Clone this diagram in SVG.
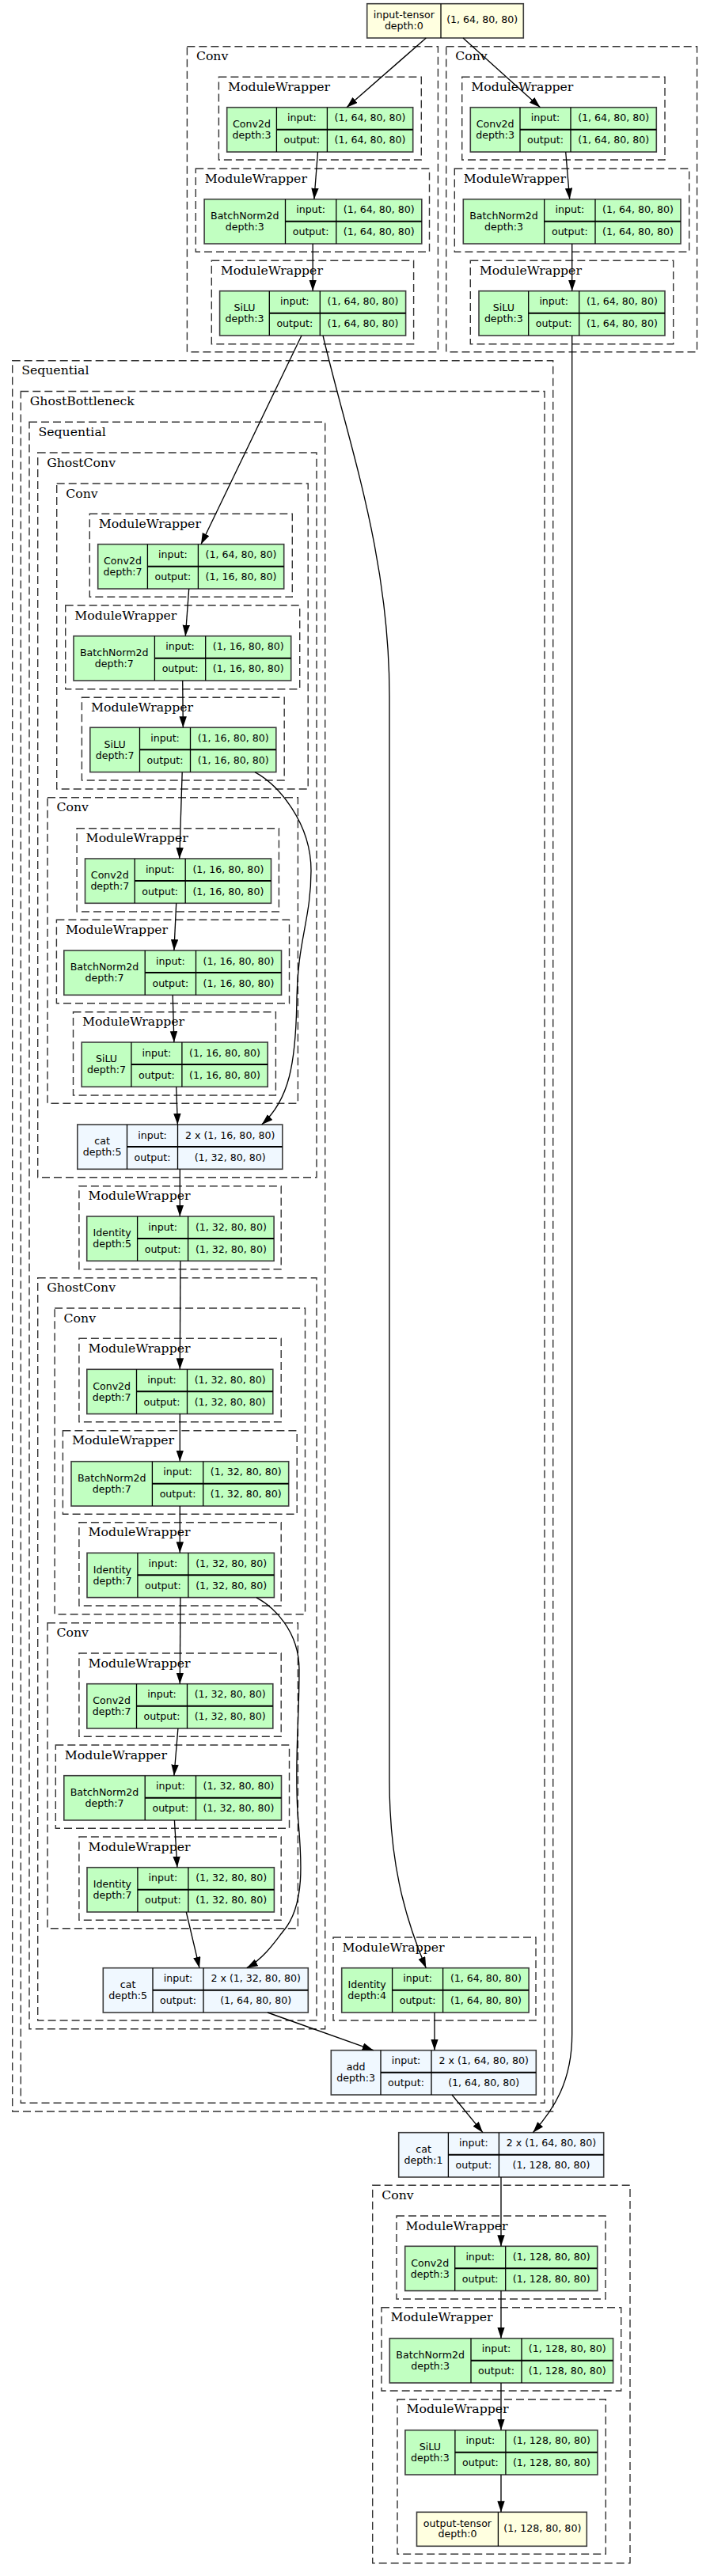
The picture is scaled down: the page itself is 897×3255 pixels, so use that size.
<svg xmlns="http://www.w3.org/2000/svg" width="897" height="3255" viewBox="0 0 897 3255">
<style>
.cl{fill:none;stroke:#333;stroke-width:1.4;stroke-dasharray:10,5}
.ct{font-family:"DejaVu Serif",serif;font-size:15.7px;fill:#000}
.nt{font-family:"DejaVu Sans",sans-serif;font-size:12.6px;text-anchor:middle;fill:#000}
.g{fill:#c1ffc1}.f{fill:#f0f8ff}.y{fill:#ffffe0}
.box{stroke:#3d3d3d;stroke-width:1.6}
.d{stroke:#000;stroke-width:1.3;fill:none}
.r{stroke:#000;stroke-width:2;fill:none}
.e{fill:none;stroke:#000;stroke-width:1.33;marker-end:url(#ah)}
</style>
<defs>
<marker id="ah" markerUnits="userSpaceOnUse" markerWidth="14" markerHeight="10" refX="14" refY="4.7" orient="auto"><path d="M0,0L14,4.7L0,9.4z" fill="#000"/></marker>
</defs>
<rect width="897" height="3255" fill="#fff"/>
<g id="clusters">
<g id="cl_conv_l"><rect class="cl" x="236.4" y="58.7" width="317" height="386"/><text class="ct" x="247.9" y="76.4">Conv</text></g>
<g id="cl_mw_l1"><rect class="cl" x="276.4" y="97.3" width="255.9" height="104.7"/><text class="ct" x="287.9" y="115">ModuleWrapper</text></g>
<g id="cl_mw_l2"><rect class="cl" x="247.3" y="213" width="295.2" height="105.3"/><text class="ct" x="258.8" y="230.7">ModuleWrapper</text></g>
<g id="cl_mw_l3"><rect class="cl" x="267.3" y="329.3" width="255.3" height="105.4"/><text class="ct" x="278.8" y="347">ModuleWrapper</text></g>
<g id="cl_conv_r"><rect class="cl" x="563.7" y="58.7" width="316.9" height="386"/><text class="ct" x="575.2" y="76.4">Conv</text></g>
<g id="cl_mw_r1"><rect class="cl" x="583.7" y="97.3" width="256.3" height="104.7"/><text class="ct" x="595.2" y="115">ModuleWrapper</text></g>
<g id="cl_mw_r2"><rect class="cl" x="574.3" y="213" width="296.4" height="105.3"/><text class="ct" x="585.8" y="230.7">ModuleWrapper</text></g>
<g id="cl_mw_r3"><rect class="cl" x="594.3" y="329.3" width="256.4" height="105.4"/><text class="ct" x="605.8" y="347">ModuleWrapper</text></g>
<g id="cl_seq1"><rect class="cl" x="15.7" y="455.7" width="683" height="2212.3"/><text class="ct" x="27.2" y="473.4">Sequential</text></g>
<g id="cl_gb"><rect class="cl" x="26.3" y="494.5" width="661.7" height="2162.8"/><text class="ct" x="37.8" y="512.2">GhostBottleneck</text></g>
<g id="cl_seq2"><rect class="cl" x="37" y="533.3" width="373.7" height="2030.4"/><text class="ct" x="48.5" y="551">Sequential</text></g>
<g id="cl_gc1"><rect class="cl" x="47.7" y="572" width="352.3" height="915.7"/><text class="ct" x="59.2" y="589.7">GhostConv</text></g>
<g id="cl_cv1"><rect class="cl" x="71.7" y="611" width="317.5" height="386"/><text class="ct" x="83.2" y="628.7">Conv</text></g>
<g id="cl_cv1_m1"><rect class="cl" x="113.3" y="649.3" width="256" height="105"/><text class="ct" x="124.8" y="667">ModuleWrapper</text></g>
<g id="cl_cv1_m2"><rect class="cl" x="82.7" y="765" width="296" height="105.7"/><text class="ct" x="94.2" y="782.7">ModuleWrapper</text></g>
<g id="cl_cv1_m3"><rect class="cl" x="103.4" y="881.3" width="255.8" height="104.7"/><text class="ct" x="114.9" y="899">ModuleWrapper</text></g>
<g id="cl_cv2"><rect class="cl" x="60" y="1007.7" width="316.4" height="386.6"/><text class="ct" x="71.5" y="1025.4">Conv</text></g>
<g id="cl_cv2_m1"><rect class="cl" x="97.1" y="1046.7" width="255.3" height="105.3"/><text class="ct" x="108.6" y="1064.4">ModuleWrapper</text></g>
<g id="cl_cv2_m2"><rect class="cl" x="71.4" y="1162.3" width="294.1" height="105.4"/><text class="ct" x="82.9" y="1180">ModuleWrapper</text></g>
<g id="cl_cv2_m3"><rect class="cl" x="92.5" y="1278.7" width="255.9" height="105.3"/><text class="ct" x="104" y="1296.4">ModuleWrapper</text></g>
<g id="cl_mw_id5"><rect class="cl" x="99.9" y="1498.7" width="255.3" height="105"/><text class="ct" x="111.4" y="1516.4">ModuleWrapper</text></g>
<g id="cl_gc2"><rect class="cl" x="47.7" y="1614.7" width="352.3" height="938.3"/><text class="ct" x="59.2" y="1632.4">GhostConv</text></g>
<g id="cl_cv3"><rect class="cl" x="69.1" y="1653" width="316.4" height="386.7"/><text class="ct" x="80.6" y="1670.7">Conv</text></g>
<g id="cl_cv3_m1"><rect class="cl" x="99.9" y="1691.3" width="255.3" height="105.4"/><text class="ct" x="111.4" y="1709">ModuleWrapper</text></g>
<g id="cl_cv3_m2"><rect class="cl" x="79.4" y="1807.7" width="295.8" height="105.6"/><text class="ct" x="90.9" y="1825.4">ModuleWrapper</text></g>
<g id="cl_cv3_m3"><rect class="cl" x="99.9" y="1923.7" width="255.3" height="105.3"/><text class="ct" x="111.4" y="1941.4">ModuleWrapper</text></g>
<g id="cl_cv4"><rect class="cl" x="60" y="2050.7" width="316.4" height="386"/><text class="ct" x="71.5" y="2068.4">Conv</text></g>
<g id="cl_cv4_m1"><rect class="cl" x="99.9" y="2089" width="255.3" height="105.3"/><text class="ct" x="111.4" y="2106.7">ModuleWrapper</text></g>
<g id="cl_cv4_m2"><rect class="cl" x="70.3" y="2205" width="295.2" height="105.3"/><text class="ct" x="81.8" y="2222.7">ModuleWrapper</text></g>
<g id="cl_cv4_m3"><rect class="cl" x="99.9" y="2321" width="255.3" height="105.3"/><text class="ct" x="111.4" y="2338.7">ModuleWrapper</text></g>
<g id="cl_mw_id4"><rect class="cl" x="421" y="2448" width="256" height="105"/><text class="ct" x="432.5" y="2465.7">ModuleWrapper</text></g>
<g id="cl_cv5"><rect class="cl" x="470.7" y="2761.3" width="325.3" height="477.4"/><text class="ct" x="482.2" y="2779">Conv</text></g>
<g id="cl_cv5_m1"><rect class="cl" x="501" y="2800" width="264" height="105"/><text class="ct" x="512.5" y="2817.7">ModuleWrapper</text></g>
<g id="cl_cv5_m2"><rect class="cl" x="482" y="2915.7" width="302.7" height="105.3"/><text class="ct" x="493.5" y="2933.4">ModuleWrapper</text></g>
<g id="cl_cv5_m3"><rect class="cl" x="502" y="3031.7" width="263.3" height="195.6"/><text class="ct" x="513.5" y="3049.4">ModuleWrapper</text></g>
</g>
<g id="nodes">
<g id="input_tensor"><rect class="y box" x="463.7" y="4.7" width="197.6" height="43.3"/><path class="d" d="M557 4.7V48"/><text class="nt" x="510.35" y="23.3">input-tensor</text><text class="nt" x="510.35" y="36.7">depth:0</text><text class="nt" x="609.15" y="29.3">(1, 64, 80, 80)</text></g>

<g id="conv2d_l"><rect class="g box" x="286.7" y="135.7" width="235" height="56.3"/><path class="d" d="M349.4 135.7V192M413.4 135.7V192"/><path class="r" d="M349.4 163.7H521.7"/><text class="nt" x="318.05" y="160.9">Conv2d</text><text class="nt" x="318.05" y="174.9">depth:3</text><text class="nt" x="381.4" y="153.2">input:</text><text class="nt" x="467.55" y="153.2">(1, 64, 80, 80)</text><text class="nt" x="381.4" y="181.2">output:</text><text class="nt" x="467.55" y="181.2">(1, 64, 80, 80)</text></g>
<g id="bn_l"><rect class="g box" x="258.1" y="251.7" width="274.7" height="56.3"/><path class="d" d="M360.5 251.7V308M424.8 251.7V308"/><path class="r" d="M360.5 279.7H532.8"/><text class="nt" x="309.3" y="276.9">BatchNorm2d</text><text class="nt" x="309.3" y="290.9">depth:3</text><text class="nt" x="392.65" y="269.2">input:</text><text class="nt" x="478.8" y="269.2">(1, 64, 80, 80)</text><text class="nt" x="392.65" y="297.2">output:</text><text class="nt" x="478.8" y="297.2">(1, 64, 80, 80)</text></g>
<g id="silu_l"><rect class="g box" x="277.6" y="367.7" width="235" height="56.3"/><path class="d" d="M340.3 367.7V424M404.3 367.7V424"/><path class="r" d="M340.3 395.7H512.6"/><text class="nt" x="308.95" y="392.9">SiLU</text><text class="nt" x="308.95" y="406.9">depth:3</text><text class="nt" x="372.3" y="385.2">input:</text><text class="nt" x="458.45" y="385.2">(1, 64, 80, 80)</text><text class="nt" x="372.3" y="413.2">output:</text><text class="nt" x="458.45" y="413.2">(1, 64, 80, 80)</text></g>

<g id="conv2d_r"><rect class="g box" x="594.3" y="135.7" width="235" height="56.3"/><path class="d" d="M657 135.7V192M721 135.7V192"/><path class="r" d="M657 163.7H829.3"/><text class="nt" x="625.65" y="160.9">Conv2d</text><text class="nt" x="625.65" y="174.9">depth:3</text><text class="nt" x="689" y="153.2">input:</text><text class="nt" x="775.15" y="153.2">(1, 64, 80, 80)</text><text class="nt" x="689" y="181.2">output:</text><text class="nt" x="775.15" y="181.2">(1, 64, 80, 80)</text></g>
<g id="bn_r"><rect class="g box" x="585.3" y="251.7" width="274.7" height="56.3"/><path class="d" d="M687.7 251.7V308M752 251.7V308"/><path class="r" d="M687.7 279.7H860"/><text class="nt" x="636.5" y="276.9">BatchNorm2d</text><text class="nt" x="636.5" y="290.9">depth:3</text><text class="nt" x="719.85" y="269.2">input:</text><text class="nt" x="806" y="269.2">(1, 64, 80, 80)</text><text class="nt" x="719.85" y="297.2">output:</text><text class="nt" x="806" y="297.2">(1, 64, 80, 80)</text></g>
<g id="silu_r"><rect class="g box" x="605" y="367.7" width="235" height="56.3"/><path class="d" d="M667.7 367.7V424M731.7 367.7V424"/><path class="r" d="M667.7 395.7H840"/><text class="nt" x="636.35" y="392.9">SiLU</text><text class="nt" x="636.35" y="406.9">depth:3</text><text class="nt" x="699.7" y="385.2">input:</text><text class="nt" x="785.85" y="385.2">(1, 64, 80, 80)</text><text class="nt" x="699.7" y="413.2">output:</text><text class="nt" x="785.85" y="413.2">(1, 64, 80, 80)</text></g>

<g id="conv2d_a"><rect class="g box" x="123.7" y="687.7" width="235" height="56.3"/><path class="d" d="M186.4 687.7V744M250.4 687.7V744"/><path class="r" d="M186.4 715.7H358.7"/><text class="nt" x="155.05" y="712.9">Conv2d</text><text class="nt" x="155.05" y="726.9">depth:7</text><text class="nt" x="218.4" y="705.2">input:</text><text class="nt" x="304.55" y="705.2">(1, 64, 80, 80)</text><text class="nt" x="218.4" y="733.2">output:</text><text class="nt" x="304.55" y="733.2">(1, 16, 80, 80)</text></g>
<g id="bn_a"><rect class="g box" x="93" y="803.7" width="274.7" height="56.3"/><path class="d" d="M195.4 803.7V860M259.7 803.7V860"/><path class="r" d="M195.4 831.7H367.7"/><text class="nt" x="144.2" y="828.9">BatchNorm2d</text><text class="nt" x="144.2" y="842.9">depth:7</text><text class="nt" x="227.55" y="821.2">input:</text><text class="nt" x="313.7" y="821.2">(1, 16, 80, 80)</text><text class="nt" x="227.55" y="849.2">output:</text><text class="nt" x="313.7" y="849.2">(1, 16, 80, 80)</text></g>
<g id="silu_a"><rect class="g box" x="113.8" y="919.3" width="235" height="56.3"/><path class="d" d="M176.5 919.3V975.6M240.5 919.3V975.6"/><path class="r" d="M176.5 947.3H348.8"/><text class="nt" x="145.15" y="944.5">SiLU</text><text class="nt" x="145.15" y="958.5">depth:7</text><text class="nt" x="208.5" y="936.8">input:</text><text class="nt" x="294.65" y="936.8">(1, 16, 80, 80)</text><text class="nt" x="208.5" y="964.8">output:</text><text class="nt" x="294.65" y="964.8">(1, 16, 80, 80)</text></g>

<g id="conv2d_b"><rect class="g box" x="107.5" y="1085" width="235" height="56.3"/><path class="d" d="M170.2 1085V1141.3M234.2 1085V1141.3"/><path class="r" d="M170.2 1113H342.5"/><text class="nt" x="138.85" y="1110.2">Conv2d</text><text class="nt" x="138.85" y="1124.2">depth:7</text><text class="nt" x="202.2" y="1102.5">input:</text><text class="nt" x="288.35" y="1102.5">(1, 16, 80, 80)</text><text class="nt" x="202.2" y="1130.5">output:</text><text class="nt" x="288.35" y="1130.5">(1, 16, 80, 80)</text></g>
<g id="bn_b"><rect class="g box" x="80.8" y="1201" width="274.7" height="56.3"/><path class="d" d="M183.2 1201V1257.3M247.5 1201V1257.3"/><path class="r" d="M183.2 1229H355.5"/><text class="nt" x="132" y="1226.2">BatchNorm2d</text><text class="nt" x="132" y="1240.2">depth:7</text><text class="nt" x="215.35" y="1218.5">input:</text><text class="nt" x="301.5" y="1218.5">(1, 16, 80, 80)</text><text class="nt" x="215.35" y="1246.5">output:</text><text class="nt" x="301.5" y="1246.5">(1, 16, 80, 80)</text></g>
<g id="silu_b"><rect class="g box" x="103.2" y="1317" width="235" height="56.3"/><path class="d" d="M165.9 1317V1373.3M229.9 1317V1373.3"/><path class="r" d="M165.9 1345H338.2"/><text class="nt" x="134.55" y="1342.2">SiLU</text><text class="nt" x="134.55" y="1356.2">depth:7</text><text class="nt" x="197.9" y="1334.5">input:</text><text class="nt" x="284.05" y="1334.5">(1, 16, 80, 80)</text><text class="nt" x="197.9" y="1362.5">output:</text><text class="nt" x="284.05" y="1362.5">(1, 16, 80, 80)</text></g>

<g id="cat_a"><rect class="f box" x="97.8" y="1421" width="259" height="56.3"/><path class="d" d="M160.5 1421V1477.3M224.5 1421V1477.3"/><path class="r" d="M160.5 1449H356.8"/><text class="nt" x="129.15" y="1446.2">cat</text><text class="nt" x="129.15" y="1460.2">depth:5</text><text class="nt" x="192.5" y="1438.5">input:</text><text class="nt" x="290.65" y="1438.5">2 x (1, 16, 80, 80)</text><text class="nt" x="192.5" y="1466.5">output:</text><text class="nt" x="290.65" y="1466.5">(1, 32, 80, 80)</text></g>
<g id="identity_d5"><rect class="g box" x="109.7" y="1537" width="236.4" height="56.3"/><path class="d" d="M173.6 1537V1593.3M237.6 1537V1593.3"/><path class="r" d="M173.6 1565H346.1"/><text class="nt" x="141.65" y="1562.2">Identity</text><text class="nt" x="141.65" y="1576.2">depth:5</text><text class="nt" x="205.6" y="1554.5">input:</text><text class="nt" x="291.85" y="1554.5">(1, 32, 80, 80)</text><text class="nt" x="205.6" y="1582.5">output:</text><text class="nt" x="291.85" y="1582.5">(1, 32, 80, 80)</text></g>

<g id="conv2d_c"><rect class="g box" x="109.8" y="1730.3" width="235" height="56.3"/><path class="d" d="M172.5 1730.3V1786.6M236.5 1730.3V1786.6"/><path class="r" d="M172.5 1758.3H344.8"/><text class="nt" x="141.15" y="1755.5">Conv2d</text><text class="nt" x="141.15" y="1769.5">depth:7</text><text class="nt" x="204.5" y="1747.8">input:</text><text class="nt" x="290.65" y="1747.8">(1, 32, 80, 80)</text><text class="nt" x="204.5" y="1775.8">output:</text><text class="nt" x="290.65" y="1775.8">(1, 32, 80, 80)</text></g>
<g id="bn_c"><rect class="g box" x="90" y="1846.7" width="274.7" height="56.3"/><path class="d" d="M192.4 1846.7V1903M256.7 1846.7V1903"/><path class="r" d="M192.4 1874.7H364.7"/><text class="nt" x="141.2" y="1871.9">BatchNorm2d</text><text class="nt" x="141.2" y="1885.9">depth:7</text><text class="nt" x="224.55" y="1864.2">input:</text><text class="nt" x="310.7" y="1864.2">(1, 32, 80, 80)</text><text class="nt" x="224.55" y="1892.2">output:</text><text class="nt" x="310.7" y="1892.2">(1, 32, 80, 80)</text></g>
<g id="identity_c"><rect class="g box" x="110" y="1962.3" width="236.4" height="56.3"/><path class="d" d="M173.9 1962.3V2018.6M237.9 1962.3V2018.6"/><path class="r" d="M173.9 1990.3H346.4"/><text class="nt" x="141.95" y="1987.5">Identity</text><text class="nt" x="141.95" y="2001.5">depth:7</text><text class="nt" x="205.9" y="1979.8">input:</text><text class="nt" x="292.15" y="1979.8">(1, 32, 80, 80)</text><text class="nt" x="205.9" y="2007.8">output:</text><text class="nt" x="292.15" y="2007.8">(1, 32, 80, 80)</text></g>

<g id="conv2d_d"><rect class="g box" x="109.8" y="2127.7" width="235" height="56.3"/><path class="d" d="M172.5 2127.7V2184M236.5 2127.7V2184"/><path class="r" d="M172.5 2155.7H344.8"/><text class="nt" x="141.15" y="2152.9">Conv2d</text><text class="nt" x="141.15" y="2166.9">depth:7</text><text class="nt" x="204.5" y="2145.2">input:</text><text class="nt" x="290.65" y="2145.2">(1, 32, 80, 80)</text><text class="nt" x="204.5" y="2173.2">output:</text><text class="nt" x="290.65" y="2173.2">(1, 32, 80, 80)</text></g>
<g id="bn_d"><rect class="g box" x="80.8" y="2243.7" width="274.7" height="56.3"/><path class="d" d="M183.2 2243.7V2300M247.5 2243.7V2300"/><path class="r" d="M183.2 2271.7H355.5"/><text class="nt" x="132" y="2268.9">BatchNorm2d</text><text class="nt" x="132" y="2282.9">depth:7</text><text class="nt" x="215.35" y="2261.2">input:</text><text class="nt" x="301.5" y="2261.2">(1, 32, 80, 80)</text><text class="nt" x="215.35" y="2289.2">output:</text><text class="nt" x="301.5" y="2289.2">(1, 32, 80, 80)</text></g>
<g id="identity_d"><rect class="g box" x="110" y="2359.7" width="236.4" height="56.3"/><path class="d" d="M173.9 2359.7V2416M237.9 2359.7V2416"/><path class="r" d="M173.9 2387.7H346.4"/><text class="nt" x="141.95" y="2384.9">Identity</text><text class="nt" x="141.95" y="2398.9">depth:7</text><text class="nt" x="205.9" y="2377.2">input:</text><text class="nt" x="292.15" y="2377.2">(1, 32, 80, 80)</text><text class="nt" x="205.9" y="2405.2">output:</text><text class="nt" x="292.15" y="2405.2">(1, 32, 80, 80)</text></g>

<g id="cat_b"><rect class="f box" x="130.3" y="2486.7" width="259" height="56.3"/><path class="d" d="M193 2486.7V2543M257 2486.7V2543"/><path class="r" d="M193 2514.7H389.3"/><text class="nt" x="161.65" y="2511.9">cat</text><text class="nt" x="161.65" y="2525.9">depth:5</text><text class="nt" x="225" y="2504.2">input:</text><text class="nt" x="323.15" y="2504.2">2 x (1, 32, 80, 80)</text><text class="nt" x="225" y="2532.2">output:</text><text class="nt" x="323.15" y="2532.2">(1, 64, 80, 80)</text></g>
<g id="identity_d4"><rect class="g box" x="431.7" y="2486.7" width="236.4" height="56.3"/><path class="d" d="M495.6 2486.7V2543M559.6 2486.7V2543"/><path class="r" d="M495.6 2514.7H668.1"/><text class="nt" x="463.65" y="2511.9">Identity</text><text class="nt" x="463.65" y="2525.9">depth:4</text><text class="nt" x="527.6" y="2504.2">input:</text><text class="nt" x="613.85" y="2504.2">(1, 64, 80, 80)</text><text class="nt" x="527.6" y="2532.2">output:</text><text class="nt" x="613.85" y="2532.2">(1, 64, 80, 80)</text></g>
<g id="add_d3"><rect class="f box" x="418.3" y="2590.7" width="259" height="56.3"/><path class="d" d="M481 2590.7V2647M545 2590.7V2647"/><path class="r" d="M481 2618.7H677.3"/><text class="nt" x="449.65" y="2615.9">add</text><text class="nt" x="449.65" y="2629.9">depth:3</text><text class="nt" x="513" y="2608.2">input:</text><text class="nt" x="611.15" y="2608.2">2 x (1, 64, 80, 80)</text><text class="nt" x="513" y="2636.2">output:</text><text class="nt" x="611.15" y="2636.2">(1, 64, 80, 80)</text></g>
<g id="cat_d1"><rect class="f box" x="503.7" y="2694.7" width="259" height="56.3"/><path class="d" d="M566.4 2694.7V2751M630.4 2694.7V2751"/><path class="r" d="M566.4 2722.7H762.7"/><text class="nt" x="535.05" y="2719.9">cat</text><text class="nt" x="535.05" y="2733.9">depth:1</text><text class="nt" x="598.4" y="2712.2">input:</text><text class="nt" x="696.55" y="2712.2">2 x (1, 64, 80, 80)</text><text class="nt" x="598.4" y="2740.2">output:</text><text class="nt" x="696.55" y="2740.2">(1, 128, 80, 80)</text></g>

<g id="conv2d_f"><rect class="g box" x="511.7" y="2838.3" width="243" height="56.3"/><path class="d" d="M574.7 2838.3V2894.6M638.7 2838.3V2894.6"/><path class="r" d="M574.7 2866.3H754.7"/><text class="nt" x="543.2" y="2863.5">Conv2d</text><text class="nt" x="543.2" y="2877.5">depth:3</text><text class="nt" x="606.7" y="2855.8">input:</text><text class="nt" x="696.7" y="2855.8">(1, 128, 80, 80)</text><text class="nt" x="606.7" y="2883.8">output:</text><text class="nt" x="696.7" y="2883.8">(1, 128, 80, 80)</text></g>
<g id="bn_f"><rect class="g box" x="492.3" y="2954.7" width="282.3" height="56.3"/><path class="d" d="M595 2954.7V3011M659 2954.7V3011"/><path class="r" d="M595 2982.7H774.6"/><text class="nt" x="543.65" y="2979.9">BatchNorm2d</text><text class="nt" x="543.65" y="2993.9">depth:3</text><text class="nt" x="627" y="2972.2">input:</text><text class="nt" x="716.8" y="2972.2">(1, 128, 80, 80)</text><text class="nt" x="627" y="3000.2">output:</text><text class="nt" x="716.8" y="3000.2">(1, 128, 80, 80)</text></g>
<g id="silu_f"><rect class="g box" x="511.9" y="3070.7" width="243" height="56.3"/><path class="d" d="M574.9 3070.7V3127M638.9 3070.7V3127"/><path class="r" d="M574.9 3098.7H754.9"/><text class="nt" x="543.4" y="3095.9">SiLU</text><text class="nt" x="543.4" y="3109.9">depth:3</text><text class="nt" x="606.9" y="3088.2">input:</text><text class="nt" x="696.9" y="3088.2">(1, 128, 80, 80)</text><text class="nt" x="606.9" y="3116.2">output:</text><text class="nt" x="696.9" y="3116.2">(1, 128, 80, 80)</text></g>
<g id="output_tensor"><rect class="y box" x="526.5" y="3174.3" width="214.8" height="43"/><path class="d" d="M629.4 3174.3V3217.3"/><text class="nt" x="577.95" y="3192.9">output-tensor</text><text class="nt" x="577.95" y="3206.3">depth:0</text><text class="nt" x="685.35" y="3198.9">(1, 128, 80, 80)</text></g>
</g>
<g id="connectors">
<path class="e" d="M538.3,48L438,135.7"/>
<path class="e" d="M585,48L682.5,135.7"/>
<path class="e" d="M714.7,192L719.7,251.7"/>
<path class="e" d="M722.7,308L722.7,367.7"/>
<path class="e" d="M722.7,424L722.7,2570C722.7,2630 700,2665 673.3,2694.7"/>
<path class="e" d="M401.5,192L396.9,251.7"/>
<path class="e" d="M395.2,308L395.2,367.7"/>
<path class="e" d="M381,424L254,687.7"/>
<path class="e" d="M408,424C440,560 492,700 492,880L492,2250C492,2350 510,2420 538.3,2486.7"/>
<path class="e" d="M238.7,744L234.3,803.7"/>
<path class="e" d="M230.7,860L231.3,919.3"/>
<path class="e" d="M230.2,975.7L226.7,1085"/>
<path class="e" d="M322,975.7C352,992 393,1040 393,1100C393,1160 376,1190 375,1260C374,1345 365,1390 330.7,1421"/>
<path class="e" d="M222.7,1141.3L219.9,1201"/>
<path class="e" d="M218.2,1257.3L219.9,1317"/>
<path class="e" d="M222.7,1373.3L224.4,1421"/>
<path class="e" d="M227.3,1477.3L227.3,1537"/>
<path class="e" d="M227.9,1593.3L227.3,1730.3"/>
<path class="e" d="M227.3,1786.6L227.3,1846.7"/>
<path class="e" d="M227.3,1903L227.3,1962.3"/>
<path class="e" d="M227.9,2018.6L227.3,2127.7"/>
<path class="e" d="M324,2018.6C345,2030 378,2060 378,2110C378,2180 372,2220 376,2290C380,2340 388,2405 358,2440C352,2447 335,2474 311.7,2486.7"/>
<path class="e" d="M224.9,2184L219.9,2243.7"/>
<path class="e" d="M220.4,2300L223.9,2359.7"/>
<path class="e" d="M235.3,2416L252,2486.7"/>
<path class="e" d="M338,2543L471.7,2590.7"/>
<path class="e" d="M549,2543L549,2590.7"/>
<path class="e" d="M571,2647L610,2694.7"/>
<path class="e" d="M633,2751L633,2838.3"/>
<path class="e" d="M633,2894.6L633,2954.7"/>
<path class="e" d="M633,3011L633,3070.7"/>
<path class="e" d="M633,3127L633,3174.3"/>
</g>
</svg>
